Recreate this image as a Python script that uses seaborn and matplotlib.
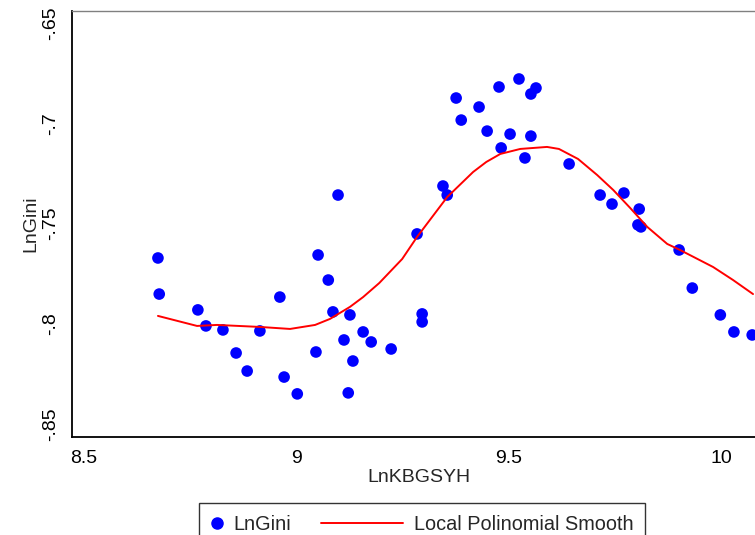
import numpy as np
import pandas as pd
import seaborn as sns
import matplotlib.pyplot as plt
from matplotlib.lines import Line2D
from matplotlib.legend_handler import HandlerBase

# scatter data
ln_kbgsyh = [8.674, 8.677, 8.768, 8.787, 8.827, 8.858, 8.884, 8.914, 8.961, 8.971,
             9.002, 9.051, 9.046, 9.075, 9.086, 9.098, 9.112, 9.126, 9.133, 9.122,
             9.157, 9.176, 9.223, 9.284, 9.296, 9.296, 9.345, 9.355, 9.376, 9.388,
             9.430, 9.449, 9.477, 9.482, 9.503, 9.524, 9.538, 9.552, 9.564, 9.552,
             9.642, 9.715, 9.743, 9.771, 9.807, 9.804, 9.811, 9.901, 9.932, 9.998,
             10.030, 10.073]
ln_gini = [-0.7672, -0.7852, -0.7931, -0.8011, -0.8031, -0.8146, -0.8236, -0.8036, -0.7867, -0.8266,
           -0.8350, -0.7657, -0.8141, -0.7782, -0.7941, -0.7358, -0.8081, -0.7956, -0.8186, -0.8345,
           -0.8041, -0.8091, -0.8126, -0.7552, -0.7951, -0.7991, -0.7313, -0.7358, -0.6874, -0.6984,
           -0.6919, -0.7039, -0.6819, -0.7123, -0.7054, -0.6779, -0.7173, -0.6854, -0.6824, -0.7064,
           -0.7203, -0.7358, -0.7403, -0.7348, -0.7428, -0.7507, -0.7517, -0.7632, -0.7822, -0.7956,
           -0.8041, -0.8056]

# local polynomial smooth curve
smooth_x = [8.674, 8.766, 8.813, 8.914, 8.985, 9.044, 9.079, 9.126, 9.157, 9.195,
            9.249, 9.284, 9.355, 9.416, 9.447, 9.480, 9.527, 9.590, 9.618, 9.663,
            9.708, 9.746, 9.786, 9.826, 9.873, 9.903, 9.981, 10.028, 10.075]
smooth_y = [-0.7961, -0.8011, -0.8006, -0.8016, -0.8026, -0.8006, -0.7976, -0.7916, -0.7867, -0.7797,
            -0.7677, -0.7567, -0.7368, -0.7243, -0.7193, -0.7153, -0.7128, -0.7118, -0.7128, -0.7178,
            -0.7258, -0.7333, -0.7423, -0.7517, -0.7602, -0.7632, -0.7717, -0.7782, -0.7852]

x_ticks = [8.5, 9, 9.5, 10]
x_labels = ['8.5', '9', '9.5', '10']
y_ticks = [-0.85, -0.8, -0.75, -0.7, -0.65]
y_labels = ['-.85', '-.8', '-.75', '-.7', '-.65']

df = pd.DataFrame({'LnKBGSYH': ln_kbgsyh, 'LnGini': ln_gini})
smooth = pd.DataFrame({'x': smooth_x, 'y': smooth_y})


# legend line that reaches further left than the (short) handle box
class LongLine(HandlerBase):
    def create_artists(self, legend, orig_handle, xdescent, ydescent,
                       width, height, fontsize, trans):
        y = height / 2 - ydescent
        ext = 3.5 * fontsize
        line = Line2D([-xdescent - ext, -xdescent + width], [y, y],
                      color=orig_handle.get_color(),
                      linewidth=orig_handle.get_linewidth())
        line.set_transform(trans)
        return [line]


sns.set_style('white')
plt.rcParams['font.family'] = ['Liberation Sans', 'DejaVu Sans']

fig = plt.figure(figsize=(7.55, 5.35), dpi=100)
ax = fig.add_axes([0.0954, 0.1832, 0.92, 0.7962])

sns.scatterplot(data=df, x='LnKBGSYH', y='LnGini', color='#0000ff', s=70,
                edgecolor='none', ax=ax, legend=False, zorder=3)
sns.lineplot(data=smooth, x='x', y='y', color='#ff0000', linewidth=1.4,
             ax=ax, legend=False, sort=False, zorder=4)

ax.set_xlim(8.4717, 10.107)
ax.set_ylim(-0.8565, -0.644)
ax.set_xticks(x_ticks)
ax.set_xticklabels(x_labels)
ax.set_yticks(y_ticks)
ax.set_yticklabels(y_labels, rotation=90, va='center')
ax.tick_params(axis='both', direction='out', length=6.5, width=1.2,
               labelsize=14, color='black', labelcolor='black', pad=3)
ax.set_xlabel('LnKBGSYH', fontsize=14, labelpad=1)
ax.set_ylabel('LnGini', fontsize=14, labelpad=2)

for side in ['left', 'bottom']:
    ax.spines[side].set_color('black')
    ax.spines[side].set_linewidth(1.3)
ax.spines['top'].set_color('#808080')
ax.spines['top'].set_linewidth(1.0)
ax.spines['right'].set_visible(False)

dot_handle = Line2D([], [], marker='o', linestyle='none', color='#0000ff', markersize=8)
line_handle = Line2D([], [], color='#ff0000', linewidth=1.4)
leg = fig.legend([dot_handle, line_handle], ['LnGini', 'Local Polinomial Smooth'], ncol=2,
                 loc='upper left', bbox_to_anchor=(199 / 755, (535 - 503) / 535),
                 borderaxespad=0, fontsize=14.3, frameon=True, fancybox=False,
                 handlelength=0.6, handletextpad=0.55, columnspacing=5.0,
                 borderpad=0.6, handler_map={line_handle: LongLine()})
leg.get_frame().set_edgecolor('black')
leg.get_frame().set_linewidth(1.0)

fig.savefig('out.png', dpi=100)
